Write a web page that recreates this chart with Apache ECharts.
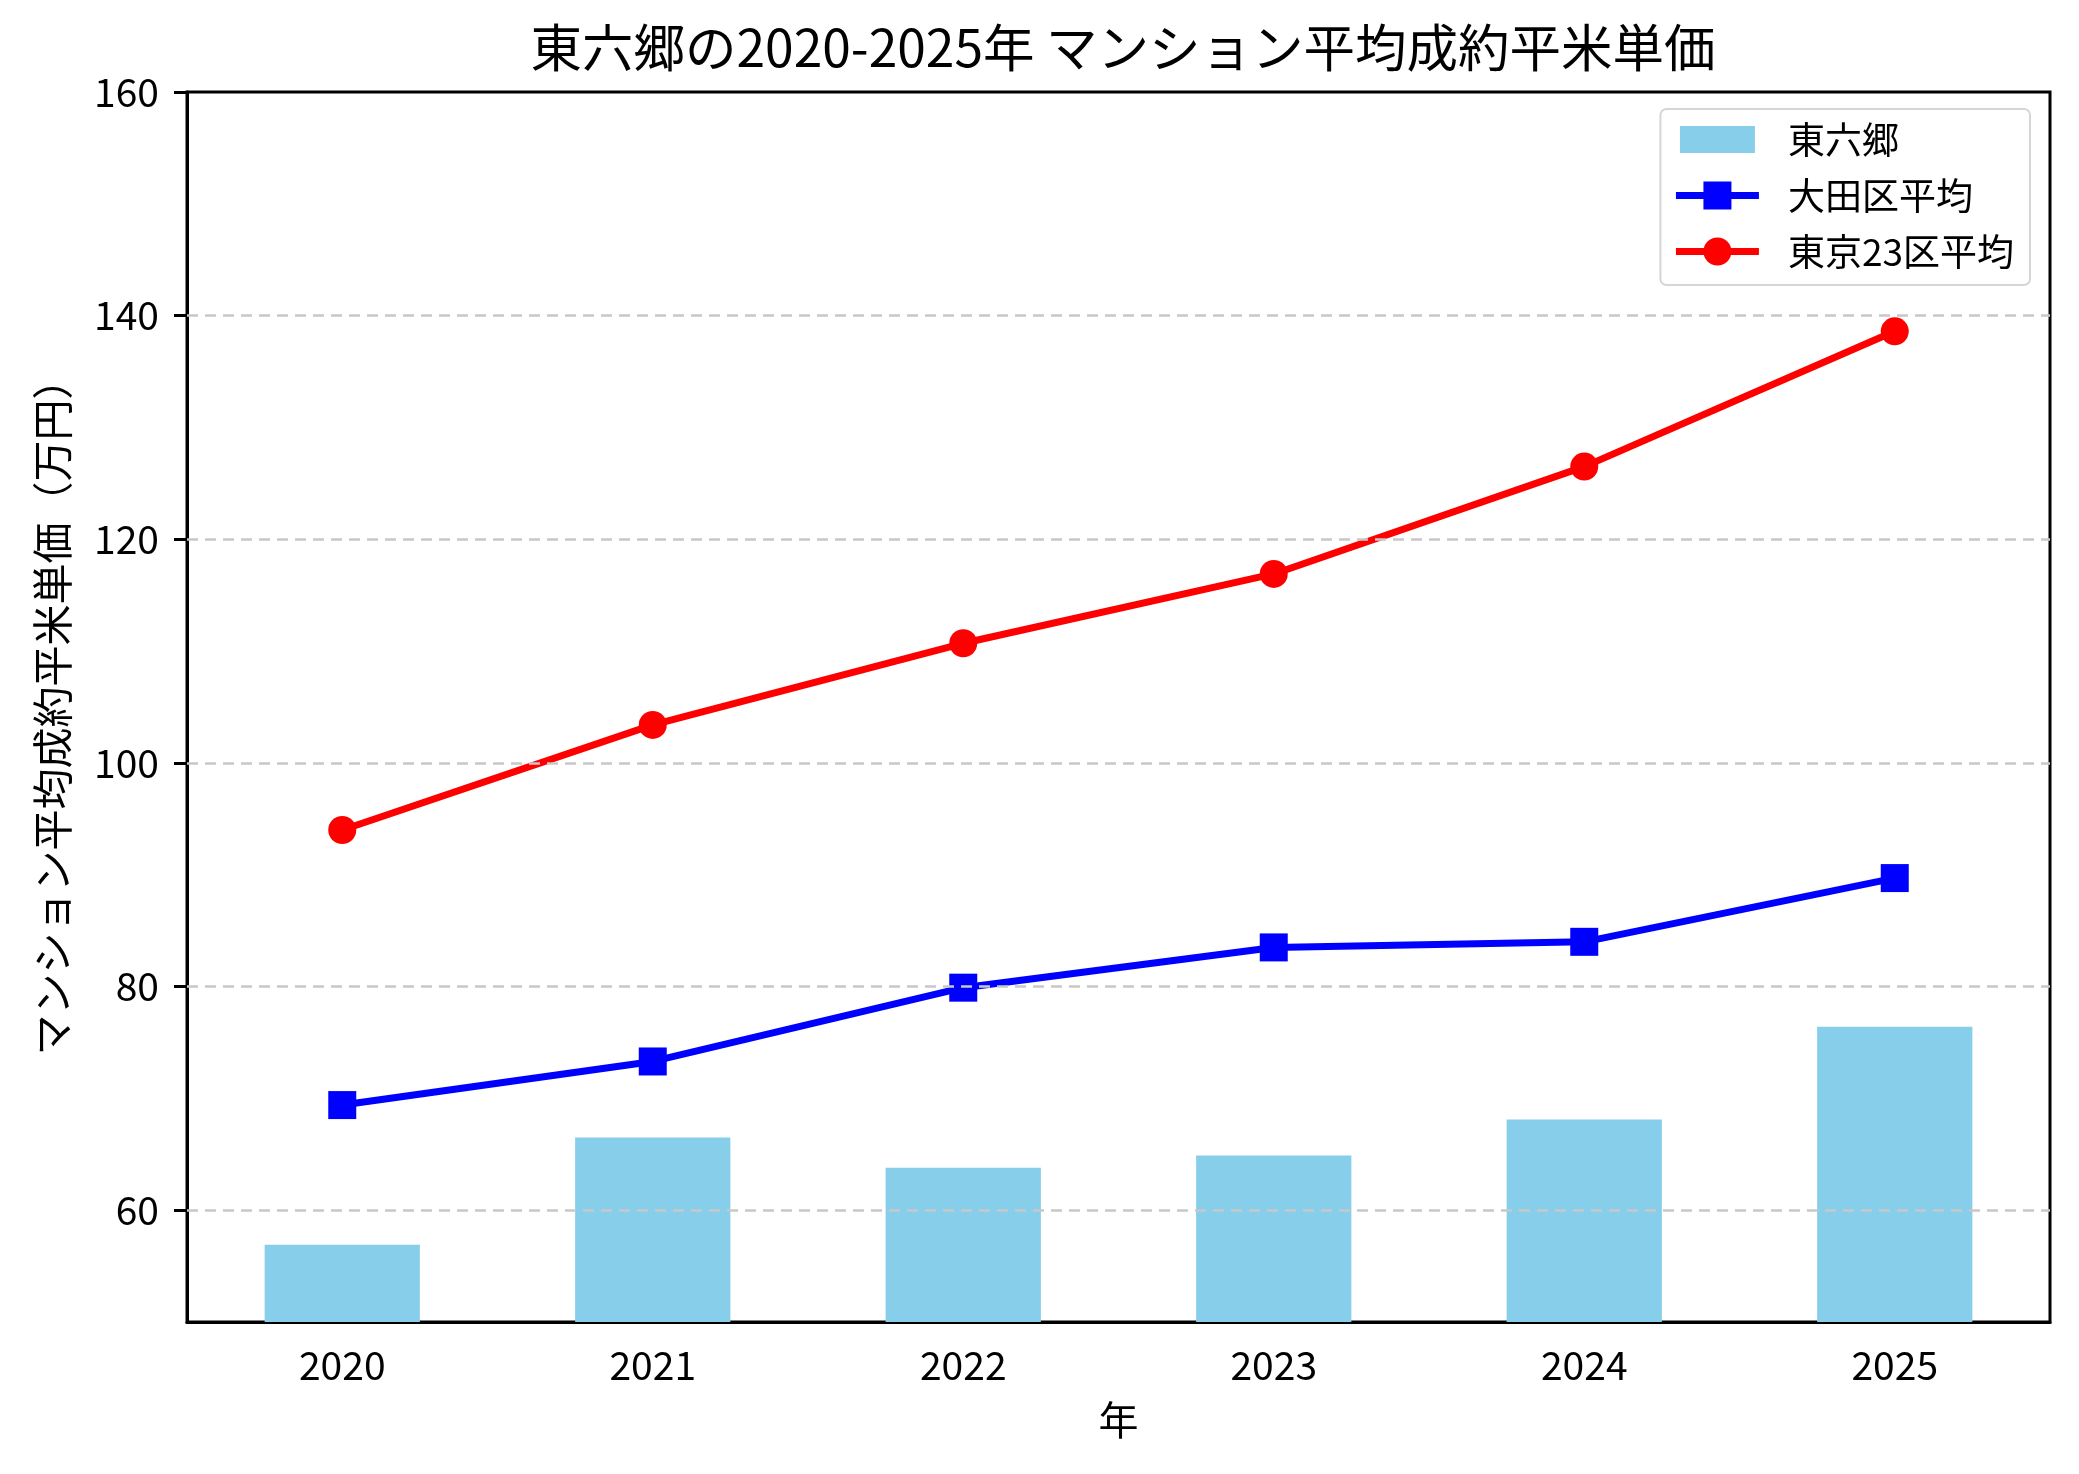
<!DOCTYPE html>
<html>
<head>
<meta charset="utf-8">
<script src="https://cdn.jsdelivr.net/npm/echarts@6/dist/echarts.min.js"></script>
<style>
html,body{margin:0;padding:0;background:#fff;}
#main{width:2079px;height:1474px;}
</style>
</head>
<body>
<div id="main"></div>
<script>
const years = ['2020', '2021', '2022', '2023', '2024', '2025'];
const rokugoValues = [56.9, 66.5, 63.8, 64.9, 68.1, 76.4];
const otaValues = [69.4, 73.3, 79.9, 83.5, 84.0, 89.7];
const tokyo23Values = [94.0, 103.4, 110.7, 116.9, 126.5, 138.6];
const yTicks = [60, 80, 100, 120, 140, 160];
const gridValues = [60, 80, 100, 120, 140];
const seriesNames = ['東六郷', '大田区平均', '東京23区平均'];
const titleText = '東六郷の2020-2025年 マンション平均成約平米単価';
const xName = '年';
const yName = 'マンション平均成約平米単価（万円）';

const FONT = '"Noto Sans CJK JP", "Noto Sans", sans-serif';
const chart = echarts.init(document.getElementById('main'), null, {renderer: 'canvas'});
chart.setOption({
  backgroundColor: '#ffffff',
  animation: false,
  title: {
    text: titleText,
    left: 1118,
    textAlign: 'center',
    top: 17,
    textStyle: {fontFamily: FONT, fontSize: 51.5, fontWeight: 'normal', color: '#000'}
  },
  legend: {
    orient: 'vertical',
    right: 49,
    top: 109,
    padding: [12, 16, 15, 12],
    itemGap: 19,
    itemWidth: 83,
    itemHeight: 35,
    backgroundColor: 'rgba(255,255,255,0.85)',
    borderColor: '#d6d6d6',
    borderWidth: 2,
    borderRadius: 6,
    textStyle: {fontFamily: FONT, fontSize: 37, color: '#000', padding: [0, 0, 0, 24]},
    data: [
      {name: seriesNames[0], icon: 'path://M0,0 M4,4 L79,4 L79,31 L4,31 Z M83,35'},
      {name: seriesNames[1], lineStyle: {width: 7}},
      {name: seriesNames[2], lineStyle: {width: 7}}
    ]
  },
  grid: {
    left: 187, right: 29, top: 92, bottom: 152,
    show: true, borderColor: '#000', borderWidth: 3, backgroundColor: 'transparent'
  },
  xAxis: {
    type: 'category',
    data: years,
    boundaryGap: true,
    name: xName,
    nameLocation: 'middle',
    nameGap: 78,
    nameTextStyle: {fontFamily: FONT, fontSize: 40, color: '#000'},
    axisLine: {lineStyle: {color: '#000', width: 3}},
    axisTick: {alignWithLabel: true, length: 13, lineStyle: {color: '#000', width: 3}},
    axisLabel: {fontFamily: FONT, fontSize: 39, color: '#000', margin: 24},
    splitLine: {show: false}
  },
  yAxis: {
    type: 'value',
    min: 50,
    max: 160,
    name: yName,
    nameLocation: 'middle',
    nameRotate: 90,
    nameGap: 114,
    nameTextStyle: {fontFamily: FONT, fontSize: 41, color: '#000'},
    axisLine: {show: true, lineStyle: {color: '#000', width: 3}},
    axisTick: {show: true, length: 13, customValues: yTicks, lineStyle: {color: '#000', width: 3}},
    axisLabel: {fontFamily: FONT, fontSize: 39, color: '#000', margin: 28, customValues: yTicks},
    splitLine: {show: false}
  },
  series: [
    {
      name: seriesNames[0],
      type: 'bar',
      data: rokugoValues,
      barWidth: '50%',
      itemStyle: {color: '#87CEEB'},
      markLine: {
        silent: true,
        symbol: ['none', 'none'],
        label: {show: false},
        lineStyle: {color: '#c8c8c8', type: [11, 7], width: 2.5},
        data: gridValues.map(v => ({yAxis: v}))
      }
    },
    {
      name: seriesNames[1],
      type: 'line',
      data: otaValues,
      symbol: 'rect',
      symbolSize: 28,
      lineStyle: {color: '#0000ff', width: 7},
      itemStyle: {color: '#0000ff'}
    },
    {
      name: seriesNames[2],
      type: 'line',
      data: tokyo23Values,
      symbol: 'circle',
      symbolSize: 28,
      lineStyle: {color: '#ff0000', width: 7},
      itemStyle: {color: '#ff0000'}
    }
  ]
});
</script>
</body>
</html>
